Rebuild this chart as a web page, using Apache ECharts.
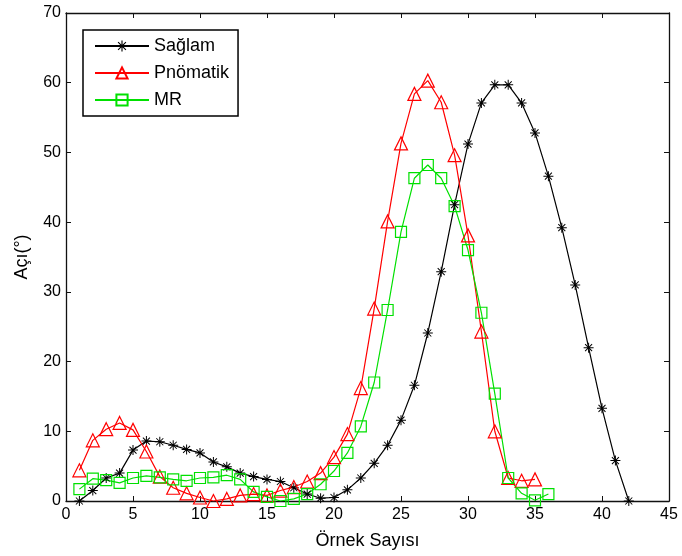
<!DOCTYPE html>
<html><head><meta charset="utf-8">
<script src="https://cdn.jsdelivr.net/npm/echarts@6/dist/echarts.min.js"></script>
<style>html,body{margin:0;padding:0;background:#fff}#c{width:682px;height:556px}</style>
</head><body><div id="c"></div>
<script>
const xTicks = [0,5,10,15,20,25,30,35,40,45];
const yTicks = [0,10,20,30,40,50,60,70];
const saglamX = [1,2,3,4,5,6,7,8,9,10,11,12,13,14,15,16,17,18,19,20,21,22,23,24,25,26,27,28,29,30,31,32,33,34,35,36,37,38,39,40,41,42];
const saglam = [0.0,1.5,3.3,4.0,7.3,8.6,8.5,8.0,7.4,6.9,5.6,4.9,4.0,3.5,3.1,2.8,1.9,1.0,0.4,0.5,1.6,3.3,5.4,8.0,11.6,16.6,24.1,32.9,42.5,51.2,57.1,59.7,59.7,57.1,52.8,46.6,39.2,31.0,22.0,13.3,5.8,0.0];
const pnoX = [1,2,3,4,5,6,7,8,9,10,11,12,13,14,15,16,17,18,19,20,21,22,23,24,25,26,27,28,29,30,31,32,33,34,35];
const pno = [4.4,8.7,10.3,11.2,10.2,7.1,3.5,1.9,1.1,0.5,0.0,0.3,0.8,1.0,0.8,1.5,2.0,2.8,4.0,6.3,9.6,16.2,27.6,40.1,51.3,58.4,60.3,57.2,49.6,38.1,24.3,10.0,3.3,2.9,3.1];
const mrX = [1,2,3,4,5,6,7,8,9,10,11,12,13,14,15,16,17,18,19,20,21,22,23,24,25,26,27,28,29,30,31,32,33,34,35,36];
const mr = [1.7,3.2,3.0,2.6,3.3,3.6,3.4,3.1,2.9,3.3,3.4,3.7,3.1,1.3,0.6,0.0,0.3,1.0,2.4,4.3,6.9,10.7,17.0,27.4,38.6,46.3,48.2,46.3,42.3,36.0,27.0,15.4,3.3,1.1,0.1,1.0];

const star = 'path://M-1,-10L1,-10L1,10L-1,10Z M-10,-1L10,-1L10,1L-10,1Z M-6.3,-7.7L7.7,6.3L6.3,7.7L-7.7,-6.3Z M6.3,-7.7L7.7,-6.3L-6.3,7.7L-7.7,6.3Z';
const zip = (xs, ys) => xs.map((x,i)=>[x, ys[i]]);
const font = 'Liberation Sans';
const axisCommon = {
  min: 0, interval: 5,
  axisLine: {show: true, onZero: false, lineStyle: {color: '#111', width: 1.3}},
  axisTick: {show: true, inside: true, length: 5, lineStyle: {color: '#111'}},
  splitLine: {show: false}
};
const chart = echarts.init(document.getElementById('c'));
chart.setOption({
  animation: false,
  textStyle: {fontFamily: font},
  grid: {left: 66, right: 13, top: 13, bottom: 55, containLabel: false},
  legend: {
    left: 83, top: 30, orient: 'vertical',
    backgroundColor: '#fff', borderColor: '#000', borderWidth: 1.5,
    padding: [7, 9, 7, 11], itemGap: 9, itemWidth: 54, itemHeight: 14,
    textStyle: {fontSize: 18, color: '#000', fontFamily: font},
    data: ['Sağlam','Pnömatik','MR']
  },
  xAxis: [
    Object.assign({}, axisCommon, {type: 'value', max: 45, position: 'bottom',
      name: 'Örnek Sayısı', nameLocation: 'middle', nameGap: 31,
      nameTextStyle: {fontSize: 18, color: '#000', fontFamily: font},
      axisLabel: {color: '#000', fontSize: 16, margin: 6, fontFamily: font}}),
    Object.assign({}, axisCommon, {type: 'value', max: 45, position: 'top',
      axisLabel: {show: false}})
  ],
  yAxis: [
    Object.assign({}, axisCommon, {type: 'value', max: 70, interval: 10, position: 'left',
      name: 'Açı(°)', nameLocation: 'middle', nameGap: 35, nameRotate: 90,
      nameTextStyle: {fontSize: 18, color: '#000', fontFamily: font},
      axisLabel: {color: '#000', fontSize: 16, margin: 5, fontFamily: font}}),
    Object.assign({}, axisCommon, {type: 'value', max: 70, interval: 10, position: 'right',
      axisLabel: {show: false}})
  ],
  series: [
    {name: 'Sağlam', type: 'line', data: zip(saglamX, saglam), symbol: star, symbolSize: 10,
      showAllSymbol: true,
      lineStyle: {color: '#000', width: 1.2}, itemStyle: {color: '#000'}},
    {name: 'Pnömatik', type: 'line', data: zip(pnoX, pno), symbol: 'triangle', symbolSize: 13,
      showAllSymbol: true,
      lineStyle: {color: '#ff0000', width: 1.2}, itemStyle: {color: 'none', borderColor: '#ff0000', borderWidth: 1.2}},
    {name: 'MR', type: 'line', data: zip(mrX, mr), symbol: 'rect', symbolSize: 11,
      showAllSymbol: true,
      lineStyle: {color: '#00e000', width: 1.2}, itemStyle: {color: 'none', borderColor: '#00e000', borderWidth: 1.2}}
  ]
});
</script></body></html>
